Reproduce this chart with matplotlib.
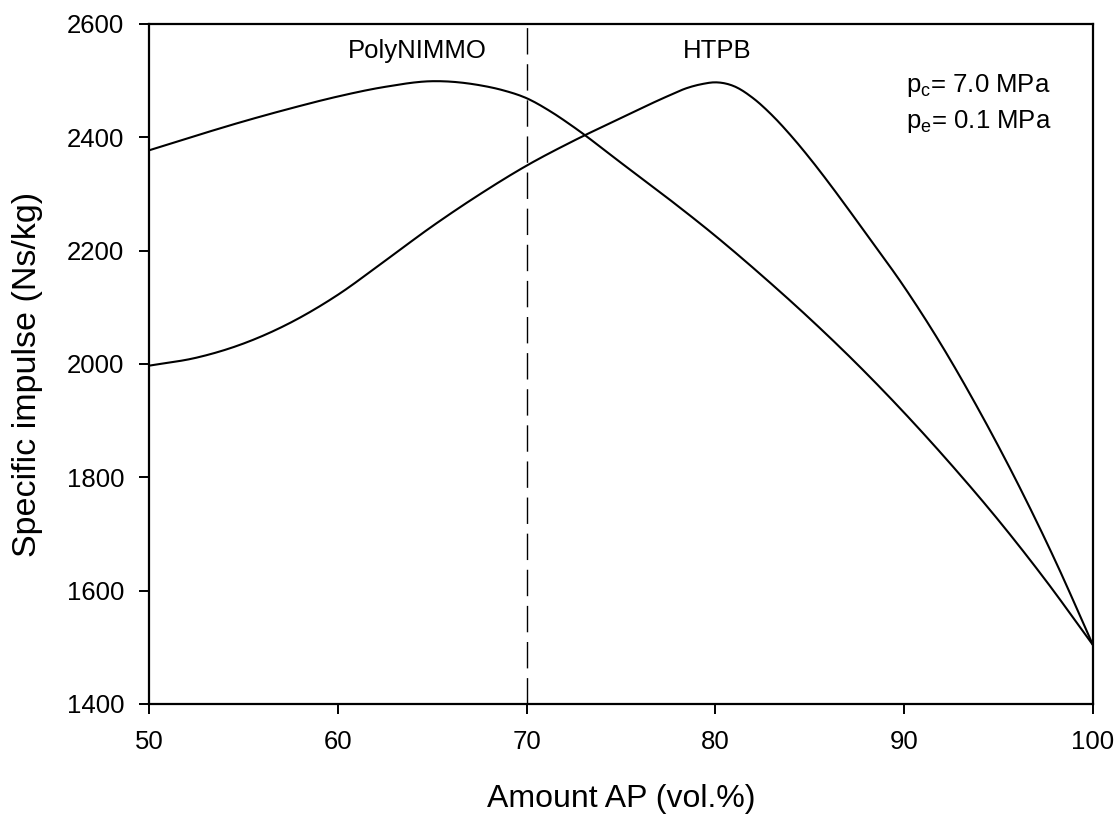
#!/usr/bin/env python
"""Specific impulse vs. amount of AP for PolyNIMMO and HTPB binders."""

import matplotlib as mpl
mpl.use('Agg')
import matplotlib.pyplot as plt
import numpy as np

FIGSIZE = (11.17, 8.15)
DPI = 100

plt.rcParams['font.family'] = ['Liberation Sans', 'DejaVu Sans']
plt.rcParams['mathtext.fontset'] = 'custom'
plt.rcParams['mathtext.rm'] = 'Liberation Sans'

# values
ap_polynimmo = [50, 52.5, 55, 57.5, 60, 62.5, 65, 67.5, 68.75, 70, 71.25,
                72.5, 75, 77.5, 80, 82.5, 85, 87.5, 90, 92.5, 95, 97.5, 100]
isp_polynimmo = [2377, 2403, 2428, 2451, 2472, 2489, 2499, 2492, 2483, 2469,
                 2446, 2418, 2355, 2292, 2226, 2155, 2080, 2000, 1914, 1822,
                 1724, 1618, 1504]

ap_htpb = [50, 52.5, 55, 57.5, 60, 62.5, 65, 67.5, 70, 72.5, 75, 77.5, 78.5,
           79.3, 80, 81, 82, 83, 84, 85, 86, 87, 88, 90, 92, 94, 96, 98, 100]
isp_htpb = [1997, 2011, 2036, 2073, 2122, 2182, 2243, 2299, 2350, 2394, 2434,
            2473, 2487, 2494, 2497, 2490, 2469, 2439, 2403, 2363, 2320, 2275,
            2229, 2136, 2032, 1916, 1790, 1653, 1504]

binder_limit = 70
labels = ['PolyNIMMO', 'HTPB']


def smooth(x, y, n=500):
    """Cubic Hermite through the read-off points (finite-difference slopes)."""
    x = np.asarray(x, float)
    y = np.asarray(y, float)
    m = np.gradient(y, x)
    xs = np.linspace(x[0], x[-1], n)
    i = np.clip(np.searchsorted(x, xs) - 1, 0, len(x) - 2)
    h = x[i + 1] - x[i]
    t = (xs - x[i]) / h
    h00 = 2 * t**3 - 3 * t**2 + 1
    h10 = t**3 - 2 * t**2 + t
    h01 = -2 * t**3 + 3 * t**2
    h11 = t**3 - t**2
    ys = h00 * y[i] + h10 * h * m[i] + h01 * y[i + 1] + h11 * h * m[i + 1]
    return xs, ys


fig = plt.figure(figsize=FIGSIZE, dpi=DPI)
ax = fig.add_axes([0.1334, 0.1362, 0.8451, 0.8344])

ax.plot(*smooth(ap_polynimmo, isp_polynimmo), color='black', lw=1.5)
ax.plot(*smooth(ap_htpb, isp_htpb), color='black', lw=1.5)
ax.axvline(binder_limit, color='black', lw=1.0, dashes=(19, 7))

ax.set_xlim(50, 100)
ax.set_ylim(1400, 2600)
ax.set_xticks(np.arange(50, 101, 10))
ax.set_yticks(np.arange(1400, 2601, 200))
ax.tick_params(direction='out', length=7, width=1.4, labelsize=18.5,
               top=False, right=False)
ax.tick_params(axis='y', pad=11)
ax.tick_params(axis='x', pad=12)
for sp in ax.spines.values():
    sp.set_linewidth(1.6)

ax.set_xlabel('Amount AP (vol.%)', fontsize=23)
ax.set_ylabel('Specific impulse (Ns/kg)', fontsize=24.5)
ax.xaxis.set_label_coords(0.5, -0.117)
ax.yaxis.set_label_coords(-0.1123, 0.484)

ax.text(64.2, 2552, labels[0], fontsize=18.5, ha='center', va='center')
ax.text(80.1, 2552, labels[1], fontsize=18.5, ha='center', va='center')
ax.text(90.1, 2492, r'p$_\mathregular{c}$= 7.0 MPa', fontsize=18.5,
        va='center')
ax.text(90.1, 2427, r'p$_\mathregular{e}$= 0.1 MPa', fontsize=18.5,
        va='center')

plt.savefig('out.png', dpi=DPI)
